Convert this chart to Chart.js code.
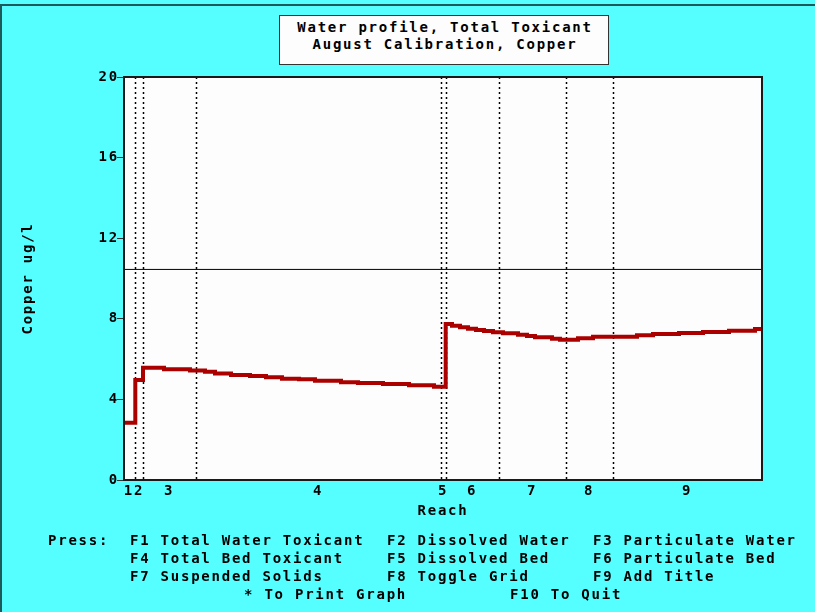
<!DOCTYPE html>
<html>
<head>
<meta charset="utf-8">
<script src="https://cdn.jsdelivr.net/npm/chart.js@4/dist/chart.umd.min.js"></script>
<style>
  html, body { margin: 0; padding: 0; background: #55ffff; }
  #screen { position: relative; width: 815px; height: 612px; overflow: hidden; background: #55ffff; }
  #edge { position: absolute; left: 0; top: 4px; width: 813px; height: 608px;
          border-top: 2px solid #1e5a5a; border-left: 2px solid #1e5a5a; pointer-events: none; }
  canvas { position: absolute; left: 0; top: 0; }
  .txt { position: absolute; white-space: pre; color: #000;
         font: bold 14px "DejaVu Sans Mono", monospace; letter-spacing: 1.76px; line-height: 18px; }
  #titlebox { position: absolute; left: 279px; top: 15px; width: 328px; height: 48px;
              background: #fdfdfd; border: 1.5px solid #333; }
  #titlebox div { text-align: center; font: bold 14px "DejaVu Sans Mono", monospace;
                  letter-spacing: 1.76px; line-height: 17px; color: #000; padding-left: 2px; }
</style>
</head>
<body>
<div id="screen">
  <canvas id="chart" width="815" height="612"></canvas>
  <div id="edge"></div>
  <div id="titlebox">
    <div style="margin-top:3px">Water profile, Total Toxicant</div>
    <div>August Calibration, Copper</div>
  </div>
  <div id="menu"></div>
</div>
<script>
// Reach boundaries along the river (distance units) and reach names
const reachBounds = [1.13, 1.9, 7.17, 31.67, 32.17, 37.53, 44.2, 48.87];
const reachNames = ['1', '2', '3', '4', '5', '6', '7', '8', '9'];
const reachLabelPos = [0.48, 1.5, 4.5, 19.4, 31.9, 34.8, 40.8, 46.5, 56.3];
const distMax = 63.8;

// Total water toxicant (copper, ug/l) by computational element start
const elementStart = [0, 1.13, 1.9, 4.0, 6.6, 8.1, 9.1, 10.7, 12.6, 14.2,
  15.8, 17.5, 19.1, 21.7, 23.4, 25.9, 28.5, 31.0, 32.17, 32.8,
  33.6, 34.4, 35.2, 36.0, 36.9, 37.9, 39.4, 40.3, 41.1, 42.8,
  43.6, 45.4, 46.9, 51.3, 52.9, 55.5, 57.9, 60.5, 63.1, 63.8];
const copperTotal = [2.84, 4.96, 5.57, 5.50, 5.44, 5.37, 5.29, 5.21, 5.16, 5.10,
  5.03, 5.00, 4.93, 4.85, 4.81, 4.76, 4.70, 4.63, 7.74, 7.66,
  7.58, 7.51, 7.44, 7.39, 7.33, 7.28, 7.21, 7.15, 7.08, 7.01,
  6.96, 7.03, 7.11, 7.18, 7.25, 7.30, 7.34, 7.41, 7.49, 7.49];

// Water quality criterion level
const criterionValue = 10.45;

// Y axis ticks
const yTicks = [0, 4, 8, 12, 16, 20];

// Key menu lines: [text, left, top]
const menuItems = [
  ['Press:', 48, 531], ['F1 Total Water Toxicant', 130, 531], ['F2 Dissolved Water', 387, 531], ['F3 Particulate Water', 593, 531],
  ['F4 Total Bed Toxicant', 130, 549], ['F5 Dissolved Bed', 387, 549], ['F6 Particulate Bed', 593, 549],
  ['F7 Suspended Solids', 130, 567], ['F8 Toggle Grid', 387, 567], ['F9 Add Title', 593, 567],
  ['* To Print Graph', 244, 585], ['F10 To Quit', 510, 585]
];
const menu = document.getElementById('menu');
menuItems.forEach(([t, l, tp]) => {
  const d = document.createElement('div');
  d.className = 'txt';
  d.textContent = t;
  d.style.left = l + 'px';
  d.style.top = tp + 'px';
  menu.appendChild(d);
});

const FONT = { family: '"DejaVu Sans Mono", monospace', size: 14, weight: 'bold' };
const SPACING = '1.76px';

const dosText = {
  id: 'dosText',
  beforeUpdate(chart) { chart.ctx.letterSpacing = SPACING; },
  beforeDraw(chart) {
    const { ctx, chartArea: a } = chart;
    ctx.letterSpacing = SPACING;
    ctx.save();
    ctx.fillStyle = '#fdfdfd';
    ctx.fillRect(a.left, a.top, a.right - a.left, a.bottom - a.top);
    ctx.restore();
  },
  beforeDatasetsDraw(chart) {
    const { ctx, chartArea: a, scales: { x } } = chart;
    ctx.save();
    ctx.strokeStyle = '#000';
    ctx.lineWidth = 1.5;
    ctx.setLineDash([2, 3]);
    reachBounds.forEach(b => {
      const px = Math.round(x.getPixelForValue(b)) + 0.5;
      ctx.beginPath();
      ctx.moveTo(px, a.top);
      ctx.lineTo(px, a.bottom);
      ctx.stroke();
    });
    ctx.restore();
  },
  afterDatasetsDraw(chart) {
    const { ctx, chartArea: a } = chart;
    ctx.save();
    ctx.strokeStyle = '#1a1a1a';
    ctx.lineWidth = 2;
    ctx.strokeRect(a.left, a.top, a.right - a.left, a.bottom - a.top);
    ctx.restore();
  }
};

new Chart(document.getElementById('chart'), {
  type: 'line',
  data: {
    datasets: [
      {
        label: 'Total Water Toxicant',
        data: elementStart.map((d, i) => ({ x: d, y: copperTotal[i] })),
        borderColor: '#aa0000',
        borderWidth: 4,
        stepped: 'before',
        pointRadius: 0,
        fill: false,
        borderCapStyle: 'butt',
        borderJoinStyle: 'miter'
      },
      {
        label: 'Criterion',
        data: [{ x: 0, y: criterionValue }, { x: distMax, y: criterionValue }],
        borderColor: '#000',
        borderWidth: 1,
        pointRadius: 0,
        fill: false
      }
    ]
  },
  options: {
    responsive: false,
    devicePixelRatio: 1,
    animation: false,
    layout: { padding: { left: 0, top: 77, right: 53, bottom: 92 } },
    plugins: { legend: { display: false }, tooltip: { enabled: false } },
    scales: {
      x: {
        type: 'linear',
        min: 0,
        max: distMax,
        afterBuildTicks: s => { s.ticks = reachLabelPos.map(v => ({ value: v })); },
        afterFit: s => { s.height = 40; },
        grid: { display: false, drawTicks: false, tickLength: 0 },
        border: { display: false },
        ticks: {
          autoSkip: false,
          maxRotation: 0,
          padding: 3,
          color: '#000',
          font: FONT,
          callback: (v, i) => reachNames[i]
        },
        title: { display: true, text: 'Reach', color: '#000', font: FONT, padding: { top: 0, bottom: 0 } }
      },
      y: {
        min: 0,
        max: 20,
        afterBuildTicks: s => { s.ticks = yTicks.map(v => ({ value: v })); },
        afterFit: s => { s.width = 124; },
        grid: { display: true, drawOnChartArea: false, drawTicks: true, tickLength: 7, color: '#333', lineWidth: 1 },
        border: { display: false },
        ticks: { padding: -2, color: '#000', font: FONT },
        title: { display: true, text: 'Copper ug/l', color: '#000', font: FONT, padding: { top: 20, bottom: 0 } }
      }
    }
  },
  plugins: [dosText]
});
</script>
</body>
</html>
